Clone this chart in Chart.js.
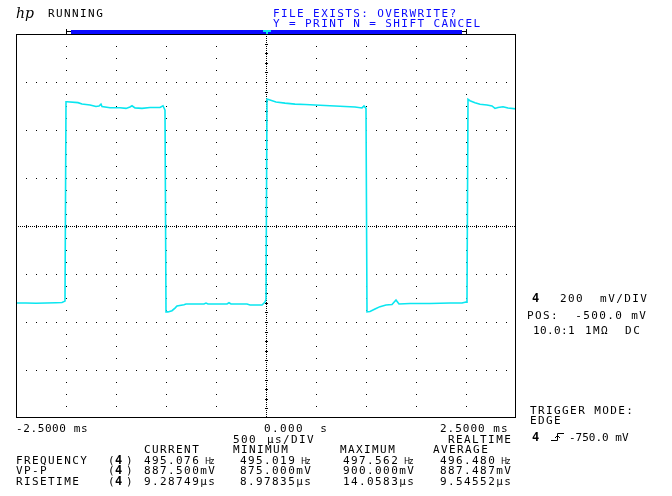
<!DOCTYPE html>
<html>
<head>
<meta charset="utf-8">
<script src="https://cdn.jsdelivr.net/npm/chart.js@4"></script>
<style>
  html, body { margin: 0; padding: 0; background: #fff; }
  canvas { display: block; }
</style>
</head>
<body>
<canvas id="scopeChart" width="672" height="496"></canvas>
<script>
// trace: time in ms, level in mV
const waveTimes = [
  -2.50, -2.40, -2.30, -2.20, -2.10, -2.04, -2.01,
  -2.00, -1.99, -1.88, -1.84, -1.76, -1.70, -1.67, -1.65, -1.64, -1.56, -1.46,
  -1.40, -1.36, -1.34, -1.31, -1.24, -1.16, -1.06, -1.03, -1.01,
  -1.00, -0.98, -0.94, -0.91, -0.89, -0.82, -0.80, -0.62, -0.60, -0.58, -0.39,
  -0.37, -0.35, -0.19, -0.16, -0.04, -0.01, 0.00,
  0.01, 0.04, 0.10, 0.19, 0.29, 0.39, 0.49, 0.59, 0.69, 0.79, 0.89, 0.96, 0.98, 1.00,
  1.01, 1.04, 1.09, 1.14, 1.20, 1.26, 1.30, 1.33, 1.44, 1.64, 1.84, 1.96, 2.00, 2.01,
  2.02, 2.04, 2.09, 2.14, 2.21, 2.26, 2.29, 2.32, 2.37, 2.42, 2.50
];
const waveMv = [
  -821, -821, -822, -821, -820, -819, -813,
  18, 18, 14, 8, 4, -2, 0, 8, -2, -7, -7,
  -10, -4, 1, -8, -10, -6, -6, 1, -17,
  -858, -858, -853, -842, -833, -828, -825, -825, -821, -825, -825,
  -820, -825, -825, -829, -829, -817, -805,
  29, 25, 17, 12, 8, 6, 4, 2, 0, -2, -4, -8, 0, -10,
  -858, -856, -846, -836, -829, -827, -808, -825, -823, -823, -821, -821, -817, -812,
  28, 22, 14, 7, 4, 0, -10, -6, -3, -8, -12
];

// graticule: 10 div of 500 us, 8 div of 200 mV, centre at -500 mV
const timeDivs = [-2.5, -2.0, -1.5, -1.0, -0.5, 0.0, 0.5, 1.0, 1.5, 2.0, 2.5];
const voltDivs = [-1300, -1100, -900, -700, -500, -300, -100, 100, 300];
const timeCentre = 0.0;
const voltCentre = -500;

// screen texts
const statusText = "RUNNING";
const messageLines = ["FILE EXISTS: OVERWRITE?", "Y = PRINT N = SHIFT CANCEL"];
const timeLabels = ["-2.5000 ms", "0.000  s", "2.5000 ms"];
const measHeads = ["CURRENT", "MINIMUM", "MAXIMUM", "AVERAGE"];
const measNames = ["FREQUENCY", "VP-P", "RISETIME"];
const measCurrent = ["495.076 Hz", "887.500mV", "9.28749µs"];
const measMinimum = ["495.019 Hz", "875.000mV", "8.97835µs"];
const measMaximum = ["497.562 Hz", "900.000mV", "14.0583µs"];
const measAverage = ["496.480 Hz", "887.487mV", "9.54552µs"];

const TRACE = "#0ae6f0";
const BLUE = "#0a0aff";

function txt(ctx, s, x, y, opt = {}) {
  ctx.font = (opt.bold ? "bold " : "") + (opt.size || 11) + "px 'DejaVu Sans Mono'";
  ctx.letterSpacing = (opt.sp ?? 1.4) + "px";
  ctx.fillStyle = opt.color || "#000";
  ctx.textBaseline = "alphabetic";
  ctx.textAlign = "left";
  ctx.fillText(s, x, y);
}

function meas(ctx, s, x, y) {
  if (s.endsWith(" Hz")) {
    txt(ctx, s.slice(0, -3), x, y);
    ctx.font = "9px 'DejaVu Sans Condensed'";
    ctx.letterSpacing = "-1px";
    ctx.fillText("Hz", x + 61, y);
  } else {
    txt(ctx, s, x, y);
  }
}

const scopeScreen = {
  id: "scopeScreen",
  beforeDatasetsDraw(chart) {
    const ctx = chart.ctx;
    const xs = chart.scales.x, ys = chart.scales.y;
    const L = xs.getPixelForValue(timeDivs[0]), R = xs.getPixelForValue(timeDivs[timeDivs.length - 1]);
    const B = ys.getPixelForValue(voltDivs[0]), T = ys.getPixelForValue(voltDivs[voltDivs.length - 1]);
    const cx = Math.round(xs.getPixelForValue(timeCentre));
    const cy = Math.round(ys.getPixelForValue(voltCentre));
    ctx.save();
    ctx.fillStyle = "#000";
    // dotted rows, one dot per 1/5 div
    voltDivs.slice(1, -1).forEach((v) => {
      const py = Math.round(ys.getPixelForValue(v));
      if (py === cy) return;
      for (let px = L + 10; px < R; px += 10) ctx.fillRect(Math.round(px), py, 1, 1);
    });
    // dotted columns, one dot per 1/4 div
    timeDivs.slice(1, -1).forEach((t) => {
      const px = Math.round(xs.getPixelForValue(t));
      if (px === cx) return;
      for (let py = T + 12; py < B; py += 12) ctx.fillRect(px, Math.round(py), 1, 1);
    });
    // centre axes with minor ticks
    for (let px = L + 2; px < R; px += 2) ctx.fillRect(px, cy, 1, 1);
    for (let px = L + 10; px < R; px += 10) ctx.fillRect(px, cy - 1, 1, 3);
    for (let py = T + 2; py < B; py += 2) ctx.fillRect(cx, py, 1, 1);
    for (let v = voltDivs[0] + 40; v < voltDivs[voltDivs.length - 1]; v += 40) {
      ctx.fillRect(cx - 1, Math.round(ys.getPixelForValue(v)), 3, 1);
    }
    ctx.restore();
  },
  afterDatasetsDraw(chart) {
    const ctx = chart.ctx;
    const xs = chart.scales.x, ys = chart.scales.y;
    const L = xs.getPixelForValue(timeDivs[0]), R = xs.getPixelForValue(timeDivs[timeDivs.length - 1]);
    const B = ys.getPixelForValue(voltDivs[0]), T = ys.getPixelForValue(voltDivs[voltDivs.length - 1]);
    ctx.save();
    // frame
    ctx.strokeStyle = "#000";
    ctx.lineWidth = 1;
    ctx.strokeRect(L + 0.5, T + 0.5, R - L - 1, B - T - 1);

    // memory bar on top
    const m0 = xs.getPixelForValue(-2.0), m1 = xs.getPixelForValue(2.0);
    const mc = xs.getPixelForValue(timeCentre);
    ctx.fillStyle = BLUE;
    ctx.fillRect(m0 + 5, 30, m1 - m0 - 9, 4);
    ctx.fillStyle = "#000";
    ctx.fillRect(m0, 29, 1, 5);
    ctx.fillRect(m0, 31, 5, 1);
    ctx.fillRect(m1, 29, 1, 5);
    ctx.fillRect(m1 - 4, 31, 4, 1);
    ctx.fillStyle = TRACE;
    ctx.fillRect(mc - 3, 30, 8, 2);
    ctx.fillRect(mc, 32, 2, 2);

    // header
    ctx.font = "italic 14px 'DejaVu Serif'";
    ctx.letterSpacing = "0px";
    ctx.fillStyle = "#000";
    ctx.fillText("hp", 16, 18);
    txt(ctx, statusText, 48, 17);
    txt(ctx, messageLines[0], 273, 17, { color: BLUE });
    txt(ctx, messageLines[1], 273, 27, { color: BLUE });

    // channel settings
    txt(ctx, "4", 532, 302, { bold: true, size: 12 });
    txt(ctx, "200  mV/DIV", 560, 302);
    txt(ctx, "POS:  -500.0 mV", 527, 319);
    txt(ctx, "10.0:1", 533, 334, { sp: 0.4 });
    txt(ctx, "1MΩ  DC", 585, 334);

    // trigger
    txt(ctx, "TRIGGER MODE:", 530, 414);
    txt(ctx, "EDGE", 530, 424);
    txt(ctx, "4", 532, 441, { bold: true, size: 12 });
    ctx.strokeStyle = "#000";
    ctx.beginPath();
    ctx.moveTo(551, 440.5); ctx.lineTo(557.5, 440.5); ctx.lineTo(557.5, 433.5); ctx.lineTo(564, 433.5);
    ctx.moveTo(555, 438); ctx.lineTo(557.5, 435.5); ctx.lineTo(560, 438);
    ctx.stroke();
    txt(ctx, "-750.0 mV", 569, 441, { sp: 0 });

    // time axis
    txt(ctx, timeLabels[0], 16, 432, { sp: 0.6 });
    txt(ctx, timeLabels[1], 264, 432);
    txt(ctx, timeLabels[2], 440, 432, { sp: 1.0 });
    txt(ctx, "500", 233, 443);
    txt(ctx, "µs/DIV", 267, 443);
    txt(ctx, "REALTIME", 448, 443);

    // measurements
    const cols = [144, 240, 343, 440];
    const heads = [144, 233, 340, 433];
    measHeads.forEach((h, i) => txt(ctx, h, heads[i], 452.5));
    const rowsY = [463.5, 474, 485];
    measNames.forEach((n, r) => {
      const y = rowsY[r];
      txt(ctx, n, 16, y);
      txt(ctx, "(", 108, y);
      txt(ctx, "4", 115, y, { bold: true, size: 12 });
      txt(ctx, ")", 126, y);
      meas(ctx, measCurrent[r], cols[0], y);
      meas(ctx, measMinimum[r], cols[1], y);
      meas(ctx, measMaximum[r], cols[2], y);
      meas(ctx, measAverage[r], cols[3], y);
    });
    ctx.restore();
  }
};

const points = waveTimes.map((t, i) => ({ x: t, y: waveMv[i] }));

new Chart(document.getElementById("scopeChart").getContext("2d"), {
  type: "line",
  data: {
    datasets: [{
      data: points,
      borderColor: TRACE,
      borderWidth: 1.6,
      pointRadius: 0,
      tension: 0,
      fill: false
    }]
  },
  options: {
    responsive: false,
    animation: false,
    layout: { padding: { left: 16, top: 34, right: 156, bottom: 78 } },
    scales: {
      x: { type: "linear", min: timeDivs[0], max: timeDivs[timeDivs.length - 1], display: false },
      y: { type: "linear", min: voltDivs[0], max: voltDivs[voltDivs.length - 1], display: false }
    },
    plugins: { legend: { display: false }, tooltip: { enabled: false } }
  },
  plugins: [scopeScreen]
});
</script>
</body>
</html>
